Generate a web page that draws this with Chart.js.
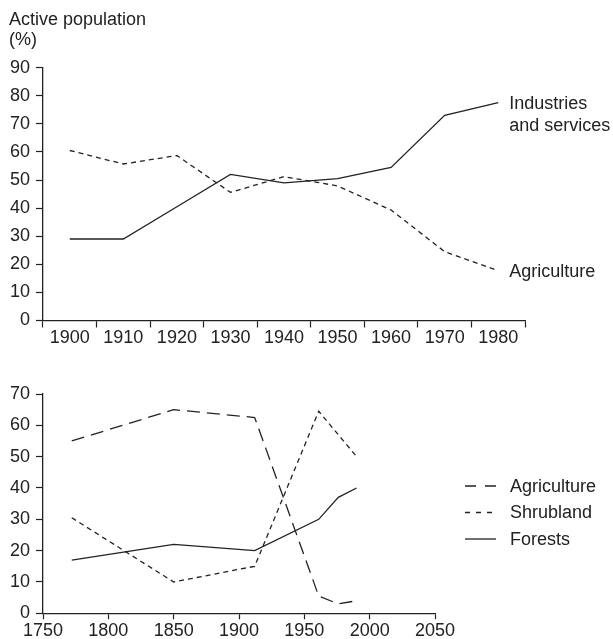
<!DOCTYPE html>
<html lang="en">

<head>
    <meta charset="UTF-8">
    <title>Active population and land use</title>
    <script src="https://cdn.jsdelivr.net/npm/chart.js@4.4.1/dist/chart.umd.min.js"></script>
    <style>
        body {
            margin: 0;
            background: #ffffff;
        }

        .panel {
            position: absolute;
            left: 0;
        }
    </style>
</head>

<body>
    <div class="panel" style="top:0"><canvas id="populationChart" width="613" height="350"></canvas></div>
    <div class="panel" style="top:350px"><canvas id="landChart" width="613" height="289"></canvas></div>

    <script>
        // Active population by sector (%)
        const decades = ['1900', '1910', '1920', '1930', '1940', '1950', '1960', '1970', '1980'];
        const industryShare = [29, 29, 40.5, 52, 49, 50.5, 54.5, 73, 77.5];
        const agricultureShare = [60.5, 55.7, 58.7, 45.6, 51.2, 47.9, 39.3, 24.5, 17.7];

        // Land use (%)
        const landYears = [1772, 1850, 1912, 1961, 1976, 1990];
        const agricultureLand = [55, 65, 62.5, 5.5, 3, 4];
        const shrubLand = [30.5, 10, 15, 64.5, null, 50];
        const forestLand = [17, 22, 20, 30, 37, 40];

        const ink = '#222222';
        Chart.defaults.font.family = '"Liberation Sans", Arial, Helvetica, sans-serif';
        Chart.defaults.font.size = 18;
        Chart.defaults.color = ink;

        const toPoints = values => landYears.map((year, i) => ({ x: year, y: values[i] }));

        // text written just right of the last point of a line
        const endLabels = {
            id: 'endLabels',
            afterDatasetsDraw(chart) {
                const ctx = chart.ctx;
                ctx.save();
                ctx.font = '18px "Liberation Sans", Arial, sans-serif';
                ctx.fillStyle = ink;
                ctx.textBaseline = 'middle';
                chart.data.datasets.forEach((ds, i) => {
                    if (!ds.endLabel) return;
                    const pts = chart.getDatasetMeta(i).data;
                    const last = pts[pts.length - 1];
                    ds.endLabel.forEach((line, j) => {
                        ctx.fillText(line, last.x + 11, last.y + 1.5 + j * 21.5);
                    });
                });
                ctx.restore();
            }
        };

        // small key beside the land use chart
        const lineKey = {
            id: 'lineKey',
            afterDraw(chart) {
                const ctx = chart.ctx;
                const x = chart.chartArea.right + 30;
                ctx.save();
                ctx.font = '18px "Liberation Sans", Arial, sans-serif';
                ctx.fillStyle = ink;
                ctx.strokeStyle = ink;
                ctx.lineWidth = 1.3;
                ctx.textBaseline = 'middle';
                chart.data.datasets.forEach((ds, i) => {
                    const y = chart.chartArea.top + 92 + i * 26.5;
                    ctx.setLineDash(ds.keyDash || []);
                    ctx.beginPath();
                    ctx.moveTo(x, y);
                    ctx.lineTo(x + 31, y);
                    ctx.stroke();
                    ctx.fillText(ds.label, x + 45, y + 1);
                });
                ctx.restore();
            }
        };

        const axisGrid = {
            drawOnChartArea: false,
            drawTicks: true,
            tickLength: 7,
            tickColor: ink,
            tickWidth: 1.2
        };
        const axisBorder = { display: true, color: ink, width: 1.3 };

        new Chart(document.getElementById('populationChart'), {
            type: 'line',
            data: {
                labels: decades,
                datasets: [{
                    label: 'Industries and services',
                    endLabel: ['Industries', 'and services'],
                    data: industryShare,
                    borderColor: ink,
                    borderWidth: 1.3,
                    pointRadius: 0,
                    tension: 0
                }, {
                    label: 'Agriculture',
                    endLabel: ['Agriculture'],
                    data: agricultureShare,
                    borderColor: ink,
                    borderWidth: 1.3,
                    borderDash: [5, 4],
                    pointRadius: 0,
                    tension: 0
                }]
            },
            options: {
                responsive: false,
                animation: false,
                layout: { padding: { left: 9, right: 88, top: 0, bottom: 0 } },
                plugins: {
                    legend: { display: false },
                    tooltip: { enabled: false },
                    title: {
                        display: true,
                        text: ['Active population', '(%)'],
                        align: 'start',
                        color: ink,
                        font: { size: 18, weight: 'normal', lineHeight: 1.1 },
                        padding: { top: 10, bottom: 18 }
                    }
                },
                scales: {
                    x: {
                        type: 'category',
                        offset: true,
                        grid: { ...axisGrid, offset: true },
                        border: axisBorder,
                        ticks: { padding: 0, maxRotation: 0, autoSkip: false },
                        afterFit: s => { s.height = 29.5; }
                    },
                    y: {
                        min: 0,
                        max: 90,
                        grid: axisGrid,
                        border: axisBorder,
                        ticks: { stepSize: 10, padding: 6 },
                        afterFit: s => { s.width = 34; }
                    }
                }
            },
            plugins: [endLabels]
        });

        new Chart(document.getElementById('landChart'), {
            type: 'line',
            data: {
                datasets: [{
                    label: 'Agriculture',
                    data: toPoints(agricultureLand),
                    borderColor: ink,
                    borderWidth: 1.3,
                    borderDash: [13, 7],
                    keyDash: [11, 9],
                    pointRadius: 0
                }, {
                    label: 'Shrubland',
                    data: toPoints(shrubLand),
                    borderColor: ink,
                    borderWidth: 1.3,
                    borderDash: [5, 4],
                    keyDash: [5, 6],
                    spanGaps: true,
                    pointRadius: 0
                }, {
                    label: 'Forests',
                    data: toPoints(forestLand),
                    borderColor: ink,
                    borderWidth: 1.3,
                    pointRadius: 0
                }]
            },
            options: {
                responsive: false,
                animation: false,
                layout: { padding: { left: 0, right: 178, top: 44, bottom: 0 } },
                plugins: {
                    legend: { display: false },
                    tooltip: { enabled: false }
                },
                scales: {
                    x: {
                        type: 'linear',
                        min: 1750,
                        max: 2050,
                        grid: { ...axisGrid, tickLength: 6 },
                        border: axisBorder,
                        ticks: { stepSize: 50, padding: 1, maxRotation: 0, callback: v => String(v) },
                        afterFit: s => { s.height = 25.7; }
                    },
                    y: {
                        min: 0,
                        max: 70,
                        grid: axisGrid,
                        border: axisBorder,
                        ticks: { stepSize: 10, padding: 6 },
                        afterFit: s => { s.width = 43; }
                    }
                }
            },
            plugins: [lineKey]
        });
    </script>
</body>

</html>
